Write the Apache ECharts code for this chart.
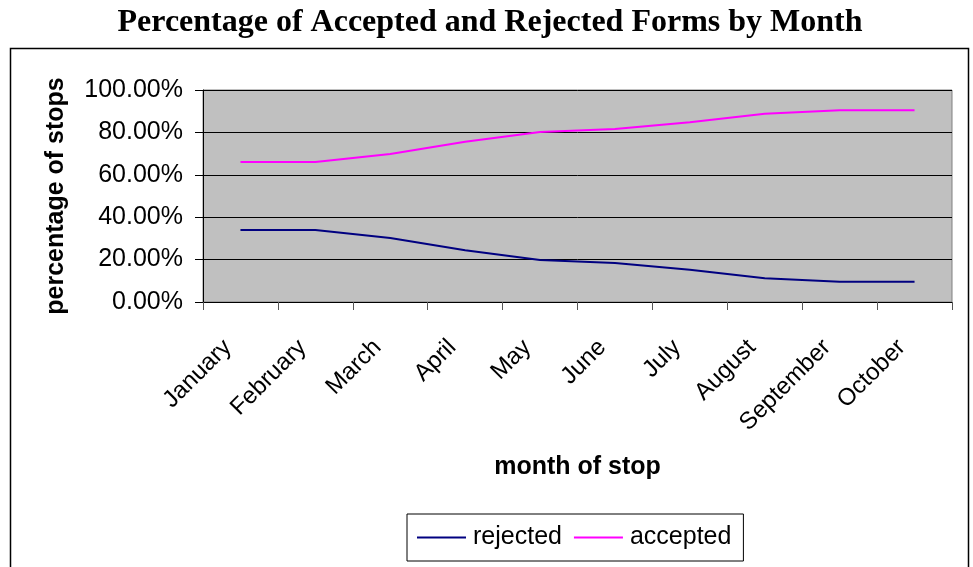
<!DOCTYPE html>
<html>
<head>
<meta charset="utf-8">
<script src="https://cdn.jsdelivr.net/npm/echarts@6/dist/echarts.min.js"></script>
<style>
  html, body { margin: 0; padding: 0; background: #fff; }
  #chart { width: 973px; height: 567px; }
</style>
</head>
<body>
<div id="chart"></div>
<script>
const months = ['January', 'February', 'March', 'April', 'May', 'June', 'July', 'August', 'September', 'October'];
const rejected = [34.0, 34.0, 30.2, 24.4, 19.8, 18.4, 15.2, 11.2, 9.6, 9.6];
const accepted = [66.0, 66.0, 69.8, 75.6, 80.2, 81.6, 84.8, 88.8, 90.4, 90.4];
const titleText = 'Percentage of Accepted and Rejected Forms by Month';
const xName = 'month of stop';
const yName = 'percentage of stops';

const chart = echarts.init(document.getElementById('chart'), null, { renderer: 'canvas' });
const sans = 'Arial, "Liberation Sans", sans-serif';
chart.setOption({
  animation: false,
  backgroundColor: '#ffffff',
  title: {
    text: titleText,
    left: 490,
    textAlign: 'center',
    top: 7,
    padding: 0,
    textStyle: { fontFamily: '"Times New Roman", "Liberation Serif", serif', fontWeight: 'bold', fontSize: 32, color: '#000' }
  },
  graphic: [{
    type: 'rect',
    silent: true,
    z: -1,
    shape: { x: 10.5, y: 48.5, width: 958, height: 540 },
    style: { fill: 'none', stroke: '#000', lineWidth: 1.5 }
  }],
  legend: {
    left: 407,
    top: 514,
    orient: 'horizontal',
    padding: [11, 12, 11, 10],
    itemGap: 12,
    itemWidth: 49,
    itemHeight: 2,
    icon: 'rect',
    borderColor: '#000',
    borderWidth: 1,
    backgroundColor: '#fff',
    textStyle: { fontFamily: sans, fontSize: 25, color: '#000', padding: [0, 0, 0, 2] },
    data: ['rejected', 'accepted']
  },
  grid: {
    left: 203, right: 21, top: 90, bottom: 265,
    show: true,
    backgroundColor: '#C0C0C0',
    borderColor: '#808080',
    borderWidth: 1
  },
  xAxis: {
    type: 'category',
    data: months,
    boundaryGap: true,
    name: xName,
    nameLocation: 'middle',
    nameGap: 153,
    nameTextStyle: { fontFamily: sans, fontWeight: 'bold', fontSize: 25, color: '#000' },
    axisLine: { lineStyle: { color: '#000', width: 1 } },
    axisTick: { show: true, length: 8, lineStyle: { color: '#555' } },
    axisLabel: {
      rotate: 45, margin: 29, padding: [0, 18, 0, 0],
      fontFamily: sans, fontSize: 24, color: '#000', interval: 0
    },
    splitLine: { show: false }
  },
  yAxis: {
    type: 'value',
    min: 0, max: 100, interval: 20,
    name: yName,
    nameLocation: 'middle',
    nameGap: 134,
    nameTextStyle: { fontFamily: sans, fontWeight: 'bold', fontSize: 25, color: '#000' },
    axisLine: { show: true, lineStyle: { color: '#000', width: 1 } },
    axisTick: { show: true, length: 8, lineStyle: { color: '#000' } },
    axisLabel: {
      margin: 20, fontFamily: sans, fontSize: 25, color: '#000',
      formatter: v => v.toFixed(2) + '%'
    },
    splitLine: { show: true, lineStyle: { color: '#000', width: 1 } }
  },
  series: [
    { name: 'rejected', type: 'line', data: rejected, symbol: 'none', smooth: false,
      lineStyle: { color: '#000080', width: 2 }, itemStyle: { color: '#000080' } },
    { name: 'accepted', type: 'line', data: accepted, symbol: 'none', smooth: false,
      lineStyle: { color: '#FF00FF', width: 2 }, itemStyle: { color: '#FF00FF' } }
  ]
});
</script>
</body>
</html>
